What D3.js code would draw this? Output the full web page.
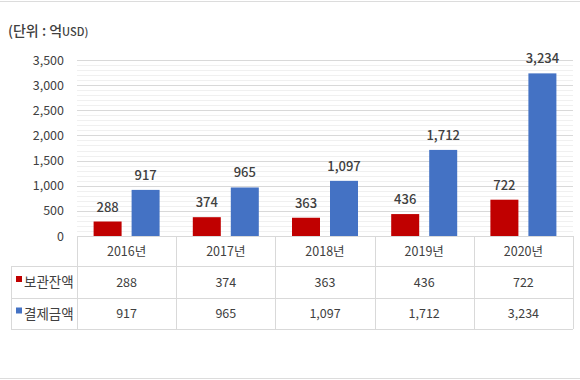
<!DOCTYPE html>
<html><head><meta charset="utf-8">
<script src="https://cdn.jsdelivr.net/npm/d3@7"></script>
<style>
body{margin:0;background:#fff;}
text{font-family:"Noto Sans CJK KR","Noto Sans",sans-serif;fill:#404040;}
</style></head>
<body><svg id="c" width="580" height="380"></svg>
<script>
const years = ["2016년","2017년","2018년","2019년","2020년"];
const seriesNames = ["보관잔액","결제금액"];
const custody = [288,374,363,436,722];
const settlement = [917,965,1097,1712,3234];
const yTicks = [0,500,1000,1500,2000,2500,3000,3500];
const colors = ["#C00000","#4472C4"];

(function(){
const svg = d3.select("#c");
const fmt = d3.format(",");
const pL=77, pR=573, pT=60, pB=236;
const x = d3.scaleBand().domain(years).range([pL,pR]);
const y = d3.scaleLinear().domain([0,3500]).range([pB,pT]);
const series=[custody,settlement];

// frame lines (top & bottom)
svg.append("line").attr("x1",0).attr("x2",580).attr("y1",1.5).attr("y2",1.5).attr("stroke","#dcdcdc");
svg.append("line").attr("x1",0).attr("x2",580).attr("y1",378.5).attr("y2",378.5).attr("stroke","#dcdcdc");

// title
const t = svg.append("text").attr("x",8).attr("y",36).attr("font-size",14).attr("font-weight",500);
t.append("tspan").text("(단위 : 억");
t.append("tspan").attr("font-size",11).text("USD)");

// minor grid
svg.append("g").selectAll("line").data(d3.range(0,3501,100).filter(v=>v%500!==0)).join("line")
  .attr("x1",pL).attr("x2",pR).attr("y1",d=>Math.round(y(d))+0.5).attr("y2",d=>Math.round(y(d))+0.5)
  .attr("stroke","#f0f0f0").attr("stroke-width",1);
// major grid
svg.append("g").selectAll("line").data(yTicks).join("line")
  .attr("x1",pL).attr("x2",pR).attr("y1",d=>Math.round(y(d))+0.5).attr("y2",d=>Math.round(y(d))+0.5)
  .attr("stroke","#d9d9d9").attr("stroke-width",1);

// y labels
const ya = svg.append("g").attr("transform",`translate(${pL},0)`)
  .call(d3.axisLeft(y).tickValues(yTicks).tickFormat(fmt).tickSize(0).tickPadding(13));
ya.select(".domain").remove();
ya.selectAll("text").attr("font-size",12.5).attr("fill","#404040")
  .style("font-family",'"Noto Sans CJK KR",sans-serif');

// bars
const bw=28, gap=10;
series.forEach((s,i)=>{
  const off = x.bandwidth()/2 + (i===0 ? -gap/2-bw : gap/2);
  svg.append("g").selectAll("rect").data(s).join("rect")
    .attr("x",(d,j)=>x(years[j])+off).attr("width",bw)
    .attr("y",d=>y(d)).attr("height",d=>y(0)-y(d)).attr("fill",colors[i]);
  svg.append("g").selectAll("text").data(s).join("text")
    .attr("x",(d,j)=>x(years[j])+off+bw/2).attr("y",d=>y(d)-10)
    .attr("text-anchor","middle").attr("font-size",13).attr("font-weight",500)
    .text(d=>fmt(d));
});

// table
const rowB=[236,266,298,329];
const tg = svg.append("g");
const lc="#d9d9d9";
tg.append("line").attr("x1",pL).attr("x2",pR).attr("y1",236.5).attr("y2",236.5).attr("stroke",lc);
[266,298,329].forEach(v=>tg.append("line").attr("x1",11).attr("x2",pR).attr("y1",v+0.5).attr("y2",v+0.5).attr("stroke",lc));
years.forEach(yr=>tg.append("line").attr("x1",Math.round(x(yr))+0.5).attr("x2",Math.round(x(yr))+0.5).attr("y1",236).attr("y2",329).attr("stroke",lc));
tg.append("line").attr("x1",pR+0.5).attr("x2",pR+0.5).attr("y1",236).attr("y2",329).attr("stroke",lc);
tg.append("line").attr("x1",11.5).attr("x2",11.5).attr("y1",266).attr("y2",329).attr("stroke",lc);
tg.selectAll("text.h").data(years).join("text").attr("class","h")
  .attr("x",d=>x(d)+x.bandwidth()/2).attr("y",(rowB[0]+rowB[1])/2+4.5)
  .attr("text-anchor","middle").attr("font-size",12.5).text(d=>d);
series.forEach((s,i)=>{
  const cy=(rowB[i+1]+rowB[i+2])/2;
  tg.append("rect").attr("x",16).attr("y",cy-6).attr("width",6).attr("height",6).attr("fill",colors[i]);
  tg.append("text").attr("x",24).attr("y",cy+5).attr("font-size",13.5).text(seriesNames[i]);
  tg.append("g").selectAll("text").data(s).join("text")
    .attr("x",(d,j)=>x(years[j])+x.bandwidth()/2).attr("y",cy+4.5)
    .attr("text-anchor","middle").attr("font-size",12.5).text(d=>fmt(d));
});
})();
</script></body></html>
